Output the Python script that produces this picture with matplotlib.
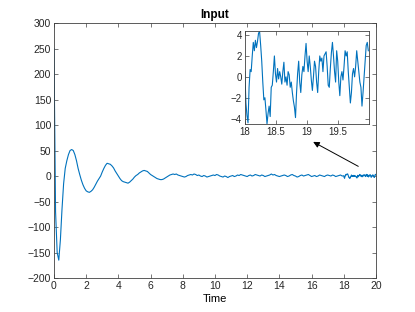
import numpy as np
import matplotlib
matplotlib.use("Agg")
import matplotlib.pyplot as plt

plt.rcParams['font.family'] = ['Liberation Sans', 'DejaVu Sans']

# Main signal sampled every 0.1 s from t=0 to t=17.9
main_dt = 0.1
main_values = [
    250, -70, -150, -165, -125, -65, -15, 15, 30, 42,
    50, 52, 50, 42, 30, 15, 3, -8, -17, -24,
    -29, -31, -32, -30, -27, -22, -16, -10, -5, 0,
    8, 15, 21, 25, 24, 23, 20, 16, 10, 5,
    0, -5, -9, -11, -12, -13, -14, -12, -9, -6,
    -2, 1, 3, 6, 8, 10, 11, 10, 9, 6,
    3, 1, -1, -3, -5, -6, -7, -7, -6, -4,
    -2, 0, 2, 3, 4, 3, 4, 2, 1, 0,
    -1, -2, -1, 1, 2, 3, 2, 4, 3, 1,
    2, 0, -1, 1, 0, -2, -1, 0, 1, 2,
    1, 3, 2, 0, -1, -2, 0, -1, -3, -1,
    0, 1, -1, 0, 2, 1, 3, 2, 1, 0,
    -1, 1, 2, 0, 1, 3, 2, 1, 0, 2,
    1, -1, 0, 1, 2, 4, 2, 3, 1, 0,
    -1, 0, 1, 2, 1, -1, 0, 2, 3, 1,
    0, -2, -1, 1, 2, 0, 1, 2, 3, 1,
    -1, 0, 1, -1, 0, 2, 1, 0, -1, 1,
    2, 1, 0, 2, 1, -1, 0, 1, 2, 0,
]

# Detailed signal between t=18 and t=20
inset_values = [
    0.5, -2.5, -3.7, -4.4, -1.0, 0.7, 0.5, 2.0, 3.3, 2.5,
    3.5, 2.8, 3.4, 4.2, 4.3, 3.0, 1.5, -0.5, -2.2, -2.0,
    -3.2, -4.5, -3.5, -2.8, -3.8, -1.0, -0.8, 0.5, 2.0, 0.3,
    -0.5, 0.8, -0.2, 0.5, 0.0, -0.7, 0.5, 1.4, -0.5, 0.0,
    -0.8, 0.5, 0.2, -1.0, -0.5, -1.5, -2.3, -2.9, -3.9, -1.5,
    0.3, 1.5, -0.5, -1.5, 0.2, 1.0, 0.5, 2.0, 3.2, 1.5,
    0.5, 2.0, 1.0, -0.3, -1.3, 0.0, 1.5, 1.0, -0.5, -1.5,
    0.5, 2.0, 1.5, 1.8, 0.5, 2.0, 2.2, 2.4, 1.0, -0.8,
    -1.0, 0.8, 2.3, 3.3, 2.0, 0.5, -0.5, 2.5, 1.5, -0.5,
    -1.8, 0.0, 0.5, -0.3, 1.0, 2.5, 2.0, 2.4, 0.5, -1.0,
    -2.5, -1.5, 0.3, 0.8, 0.0, 1.0, 2.5, 1.5, 0.5, -0.5,
    -1.0, -2.8, -1.5, 0.0, 1.5, 3.0, 3.3, 2.5,
]
inset_start, inset_end = 18.0, 19.99

main_xticks = [0, 2, 4, 6, 8, 10, 12, 14, 16, 18, 20]
main_yticks = [-200, -150, -100, -50, 0, 50, 100, 150, 200, 250, 300]
inset_xticks = [18, 18.5, 19, 19.5]
inset_xticklabels = ['18', '18.5', '19', '19.5']
inset_yticks = [-4, -2, 0, 2, 4]

t_main = np.arange(len(main_values)) * main_dt
t_inset = np.linspace(inset_start, inset_end, len(inset_values))
t_all = np.concatenate([t_main, t_inset])
v_all = np.concatenate([np.array(main_values, float), np.array(inset_values, float)])

line_color = '#0072BD'
axis_color = '#404040'

fig = plt.figure(figsize=(4.15, 3.12), dpi=100)
ax = fig.add_axes([0.130, 0.109, 0.776, 0.817])
ax.plot(t_all, v_all, color=line_color, lw=0.8)
ax.set_xlim(0, 20)
ax.set_ylim(-200, 300)
ax.set_xticks(main_xticks)
ax.set_yticks(main_yticks)
ax.set_title('Input', fontsize=8.5, fontweight='bold', pad=4)
ax.set_xlabel('Time', fontsize=8, labelpad=2)

def style(a, fs):
    for s in a.spines.values():
        s.set_color(axis_color)
        s.set_linewidth(0.6)
    a.tick_params(direction='in', length=3, width=0.5, colors=axis_color,
                  labelsize=fs, top=True, right=True, pad=2)
    for lab in a.get_xticklabels() + a.get_yticklabels():
        lab.set_color('#262626')

style(ax, 7.5)

# Arrow pointing to inset
ax.annotate('', xy=(16.1, 67), xytext=(18.9, 19),
            arrowprops=dict(arrowstyle='-|>', color='black', lw=0.7,
                            mutation_scale=9, shrinkA=0, shrinkB=0))

axi = fig.add_axes([0.590, 0.603, 0.299, 0.298])
axi.plot(t_inset, inset_values, color=line_color, lw=0.8)
axi.set_xlim(18, 20)
axi.set_ylim(-4.5, 4.4)
axi.set_xticks(inset_xticks)
axi.set_xticklabels(inset_xticklabels)
axi.set_yticks(inset_yticks)
style(axi, 7)

fig.savefig('out.png', dpi=100)
